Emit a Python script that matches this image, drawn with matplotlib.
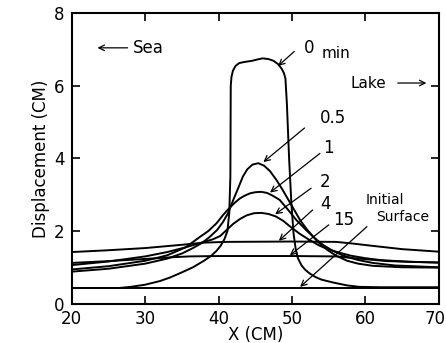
import matplotlib.pyplot as plt
import matplotlib.transforms as mtransforms

# Displacement profiles (x in cm, displacement in cm) at several times
x_init = [20, 70]
y_init = [0.43, 0.43]

x_t0 = [20, 26.5, 28, 30, 32, 33.4, 35, 36.5, 38, 39, 39.7, 40.3, 40.8, 41.2, 41.45, 41.6,
        41.65, 41.75, 41.95, 42.3, 42.8, 43.5, 44.5, 45.3, 46.0, 46.8, 47.5, 48.1, 48.6,
        48.9, 49.1, 49.3, 49.6, 49.9, 50.2, 50.5, 50.8, 51.3, 51.8, 52.4, 53.2, 54.0,
        55.6, 57.5, 59.2, 62, 70]
y_t0 = [0.43, 0.43, 0.46, 0.52, 0.62, 0.72, 0.86, 1.0, 1.18, 1.32, 1.45, 1.6, 1.78, 2.0, 2.5,
        3.5, 6.0, 6.25, 6.42, 6.55, 6.63, 6.66, 6.69, 6.73, 6.76, 6.74, 6.69, 6.6, 6.47,
        6.35, 6.2, 5.5, 4.0, 2.8, 1.94, 1.5, 1.25, 1.05, 0.93, 0.83, 0.73, 0.66,
        0.58, 0.5, 0.46, 0.45, 0.45]

x_t05 = [20, 25, 30, 33, 35, 36.5, 37.8, 38.8, 39.8, 40.6, 41.3, 42, 42.7, 43.3, 43.9, 44.6,
         45.4, 46.2, 47.0, 47.9, 48.7, 49.5, 50.3, 51.1, 52, 52.9, 53.8, 54.8, 56, 57.5,
         59, 61, 65, 70]
y_t05 = [0.88, 0.96, 1.1, 1.24, 1.38, 1.53, 1.68, 1.84, 2.03, 2.25, 2.5, 2.86, 3.2, 3.5, 3.7,
         3.83, 3.87, 3.8, 3.65, 3.4, 3.14, 2.86, 2.58, 2.3, 2.05, 1.84, 1.65, 1.48, 1.32,
         1.18, 1.1, 1.04, 1.0, 0.99]

x_t1 = [20, 25, 30, 33, 35.5, 37.4, 38.6, 39.7, 40.6, 41.5, 42.2, 42.9, 43.6, 44.3, 45.0,
        45.8, 46.6, 47.4, 48.3, 49.4, 50.6, 51.9, 53.1, 54.2, 55.5, 57, 59, 61, 64, 70]
y_t1 = [0.94, 1.03, 1.18, 1.33, 1.55, 1.83, 2.0, 2.21, 2.44, 2.64, 2.78, 2.9, 2.98, 3.04, 3.07,
        3.08, 3.05, 2.97, 2.86, 2.6, 2.3, 2.03, 1.8, 1.62, 1.46, 1.32, 1.2, 1.12, 1.05, 1.0]

x_t2 = [20, 25, 30, 33, 35.5, 38, 39.2, 40.2, 41.1, 42, 42.9, 43.8, 44.8, 45.8, 46.8, 47.8,
        48.8, 49.7, 51, 52.4, 53.7, 55, 56.5, 58, 60, 62, 66, 70]
y_t2 = [1.06, 1.16, 1.3, 1.42, 1.55, 1.7, 1.77, 1.86, 2.03, 2.2, 2.33, 2.43, 2.49, 2.5, 2.47,
        2.4, 2.28, 2.13, 1.93, 1.75, 1.6, 1.49, 1.4, 1.32, 1.25, 1.2, 1.15, 1.13]

x_t4 = [20, 25, 30, 35, 38, 41, 50, 56, 58, 61, 65, 70]
y_t4 = [1.42, 1.47, 1.53, 1.62, 1.68, 1.7, 1.71, 1.7, 1.66, 1.59, 1.5, 1.43]

x_t15 = [20, 25, 30, 34, 36, 40, 50, 56, 59, 63, 70]
y_t15 = [1.12, 1.17, 1.23, 1.28, 1.3, 1.31, 1.31, 1.3, 1.24, 1.17, 1.13]

curves = [(x_init, y_init), (x_t0, y_t0), (x_t05, y_t05), (x_t1, y_t1),
          (x_t2, y_t2), (x_t4, y_t4), (x_t15, y_t15)]

fig = plt.figure(figsize=(4.46, 3.43), dpi=100)
ax = fig.add_axes([0.161, 0.115, 0.823, 0.846])

for xs, ys in curves:
    ax.plot(xs, ys, color='black', lw=1.4, solid_joinstyle='round')

ax.set_xlim(20, 70)
ax.set_ylim(0, 8)
ax.set_xticks([20, 30, 40, 50, 60, 70])
ax.set_yticks([0, 2, 4, 6, 8])
ax.tick_params(direction='in', top=True, right=True, length=6, width=1.2,
               labelsize=12)
ax.tick_params(axis='x', pad=5)
ax.tick_params(axis='y', pad=5)
for s in ax.spines.values():
    s.set_linewidth(1.5)

# last x tick label sits right at the figure edge; nudge it inside
last = ax.get_xticklabels()[-1]
last.set_transform(last.get_transform() +
                   mtransforms.ScaledTranslation(-4 / 100, 0, fig.dpi_scale_trans))

ax.set_xlabel('X (CM)', fontsize=12, labelpad=-2)
ax.set_ylabel('Displacement (CM)', fontsize=12, labelpad=3)

arr = dict(arrowstyle='->', color='black', lw=0.9, shrinkA=0, shrinkB=0)

# Sea / Lake labels
ax.annotate('', xy=(23.5, 7.05), xytext=(27.6, 7.05), arrowprops=arr)
ax.text(28.3, 7.05, 'Sea', fontsize=12, va='center')
ax.text(57.9, 6.08, 'Lake', fontsize=11, va='center')
ax.annotate('', xy=(68.3, 6.08), xytext=(64.4, 6.08), arrowprops=arr)

# time labels with arrows to the curves
ax.text(51.6, 7.05, '0', fontsize=12, va='center')
ax.text(54.0, 6.9, 'min', fontsize=11, va='center')
ax.annotate('', xy=(48.1, 6.55), xytext=(50.3, 6.95), arrowprops=arr)

ax.text(53.8, 5.11, '0.5', fontsize=12, va='center')
ax.annotate('', xy=(46.1, 3.9), xytext=(51.7, 4.84), arrowprops=arr)

ax.text(54.2, 4.29, '1', fontsize=12, va='center')
ax.annotate('', xy=(47.0, 3.06), xytext=(53.8, 4.14), arrowprops=arr)

ax.text(53.8, 3.36, '2', fontsize=12, va='center')
ax.annotate('', xy=(47.7, 2.46), xytext=(52.6, 3.18), arrowprops=arr)

ax.text(53.8, 2.74, '4', fontsize=12, va='center')
ax.annotate('', xy=(48.2, 1.73), xytext=(52.8, 2.58), arrowprops=arr)

ax.text(55.6, 2.3, '15', fontsize=12, va='center')
ax.annotate('', xy=(49.7, 1.33), xytext=(55.0, 2.17), arrowprops=arr)

ax.text(62.6, 2.86, 'Initial', fontsize=10, va='center', ha='center')
ax.text(65.0, 2.4, 'Surface', fontsize=10, va='center', ha='center')
ax.annotate('', xy=(51.1, 0.46), xytext=(60.2, 2.12), arrowprops=arr)

fig.savefig('out.png', dpi=100)
